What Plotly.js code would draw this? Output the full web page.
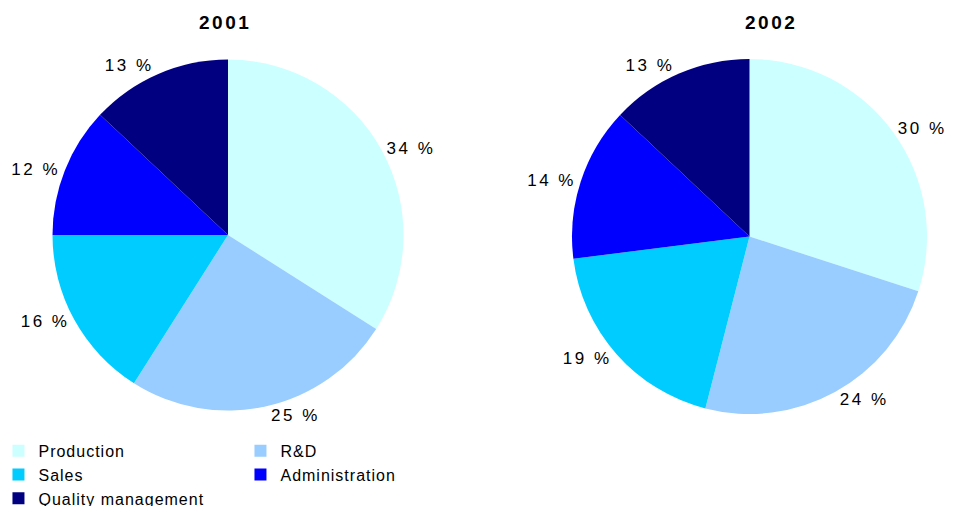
<!DOCTYPE html>
<html><head><meta charset="utf-8">
<script src="https://cdn.plot.ly/plotly-3.0.1.min.js"></script>
<style>
html,body{margin:0;padding:0;background:#fff;}
#chart{width:959px;height:506px;}
text.slicetext{letter-spacing:2.5px;}
text.legendtext{letter-spacing:1px;}
g.annotation-text-g text{letter-spacing:2.5px;}
</style></head><body><div id="chart"></div>
<script>
const categories = ['Production', 'R&D', 'Sales', 'Administration', 'Quality management'];
const values2001 = [34, 25, 16, 12, 13];
const values2002 = [30, 24, 19, 14, 13];
const colors = ['#CCFFFF', '#99CCFF', '#00CCFF', '#0000FF', '#000080'];
const years = ['2001', '2002'];

const W = 959, H = 506;
const margin = {l: 0, r: 0, t: 0, b: 70};
const plotH = H - margin.t - margin.b;
const FONT = 'Liberation Sans, Arial, sans-serif';

function pie(values, dom, name) {
  return {
    type: 'pie',
    name: name,
    labels: categories,
    values: values,
    sort: false,
    direction: 'clockwise',
    rotation: 0,
    marker: {colors: colors, line: {width: 0}},
    textposition: 'outside',
    texttemplate: '%{value} %',
    outsidetextfont: {family: FONT, size: 17, color: '#000'},
    domain: dom,
    hoverinfo: 'label+value'
  };
}

const dom2001 = {x: [52.5 / W, 403.5 / W], y: [1 - 410.5 / plotH, 1 - 59.5 / plotH]};
const dom2002 = {x: [572 / W, 927 / W], y: [1 - 414 / plotH, 1 - 59 / plotH]};

const data = [pie(values2001, dom2001, years[0]), pie(values2002, dom2002, years[1])];

const layout = {
  width: W, height: H,
  margin: Object.assign({autoexpand: false}, margin),
  paper_bgcolor: '#fff', plot_bgcolor: '#fff',
  font: {family: FONT, color: '#000'},
  showlegend: true,
  legend: {
    orientation: 'h', x: -0.0016, xanchor: 'left', y: 0.005, yanchor: 'top',
    entrywidth: 197, entrywidthmode: 'pixels',
    font: {family: FONT, size: 16, color: '#000'},
    traceorder: 'normal', bgcolor: 'rgba(0,0,0,0)'
  },
  annotations: [
    {text: '<b>' + years[0] + '</b>', xref: 'paper', yref: 'paper', x: 225 / W, y: 1 - 22 / plotH,
     xanchor: 'center', yanchor: 'middle', showarrow: false, font: {family: FONT, size: 19, color: '#000'}},
    {text: '<b>' + years[1] + '</b>', xref: 'paper', yref: 'paper', x: 771 / W, y: 1 - 22 / plotH,
     xanchor: 'center', yanchor: 'middle', showarrow: false, font: {family: FONT, size: 19, color: '#000'}}
  ]
};

Plotly.newPlot('chart', data, layout, {displayModeBar: false, staticPlot: true});
</script></body></html>
